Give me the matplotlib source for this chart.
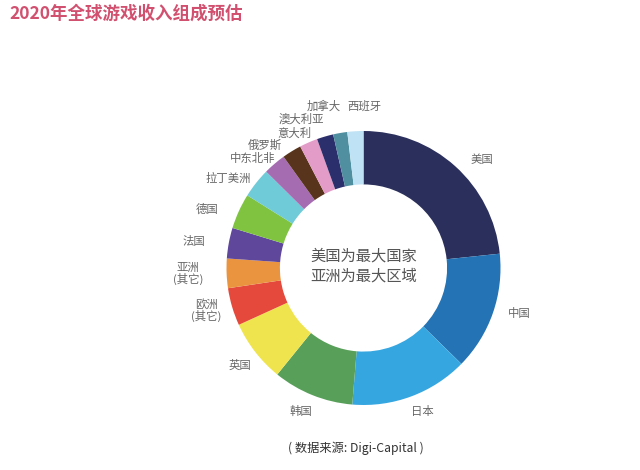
import matplotlib
matplotlib.use("Agg")
import matplotlib.pyplot as plt

plt.rcParams['font.family'] = ['Noto Sans CJK SC', 'DejaVu Sans']

W, H = 640, 470

regions = ['美国', '中国', '日本', '韩国', '英国', '欧洲\n(其它)', '亚洲\n(其它)', '法国',
           '德国', '拉丁美洲', '中东北非', '俄罗斯', '意大利', '澳大利亚', '加拿大', '西班牙']
shares = [84, 50.4, 50.3, 34.3, 26.5, 16, 12.5, 13, 15, 12.7, 9.6, 8.2, 7.7, 7, 6, 6.8]
colors = ['#2a2f5c', '#2373b5', '#36a6e0', '#58a05a', '#efe44e', '#e5493b', '#ea9440', '#5f479c',
          '#7fc341', '#6fcbd8', '#a56cb2', '#58341c', '#e39cc8', '#2b2f6b', '#4f8f9f', '#bfe3f4']
label_px = [(482, 160), (519, 314), (422, 412), (301, 411), (240, 365), (206, 310), (188, 274),
            (194, 241), (207, 209), (228, 178), (253, 158), (265, 145), (294, 133), (301, 119),
            (324, 106), (364, 106)]

title = '2020年全球游戏收入组成预估'
center_lines = '美国为最大国家\n亚洲为最大区域'
source = '( 数据来源: Digi-Capital )'


def fx(x):
    return x / W


def fy(y):
    return 1 - y / H


fig = plt.figure(figsize=(W / 100, H / 100), dpi=100)
cx, cy, r = 363.5, 268, 137
ax = fig.add_axes([fx(cx - r), fy(cy + r), 2 * r / W, 2 * r / H])
ax.pie(shares, colors=colors, startangle=90, counterclock=False, radius=1,
       wedgeprops={'width': 0.39, 'linewidth': 0})
ax.set_xlim(-1, 1)
ax.set_ylim(-1, 1)

fig.text(fx(363.5), fy(266), center_lines, ha='center', va='center', fontsize=11, color='#555555', linespacing=1.25)

for name, (x, y) in zip(regions, label_px):
    fig.text(fx(x), fy(y), name, ha='center', va='center', fontsize=8.2, color='#666666', linespacing=1.0)

fig.text(fx(9), fy(14), title, ha='left', va='center', fontsize=12.6, fontweight='bold', color='#d1506f')
fig.text(fx(356), fy(448), source, ha='center', va='center', fontsize=8.8, color='#333333')

fig.savefig('out.png', dpi=100)
